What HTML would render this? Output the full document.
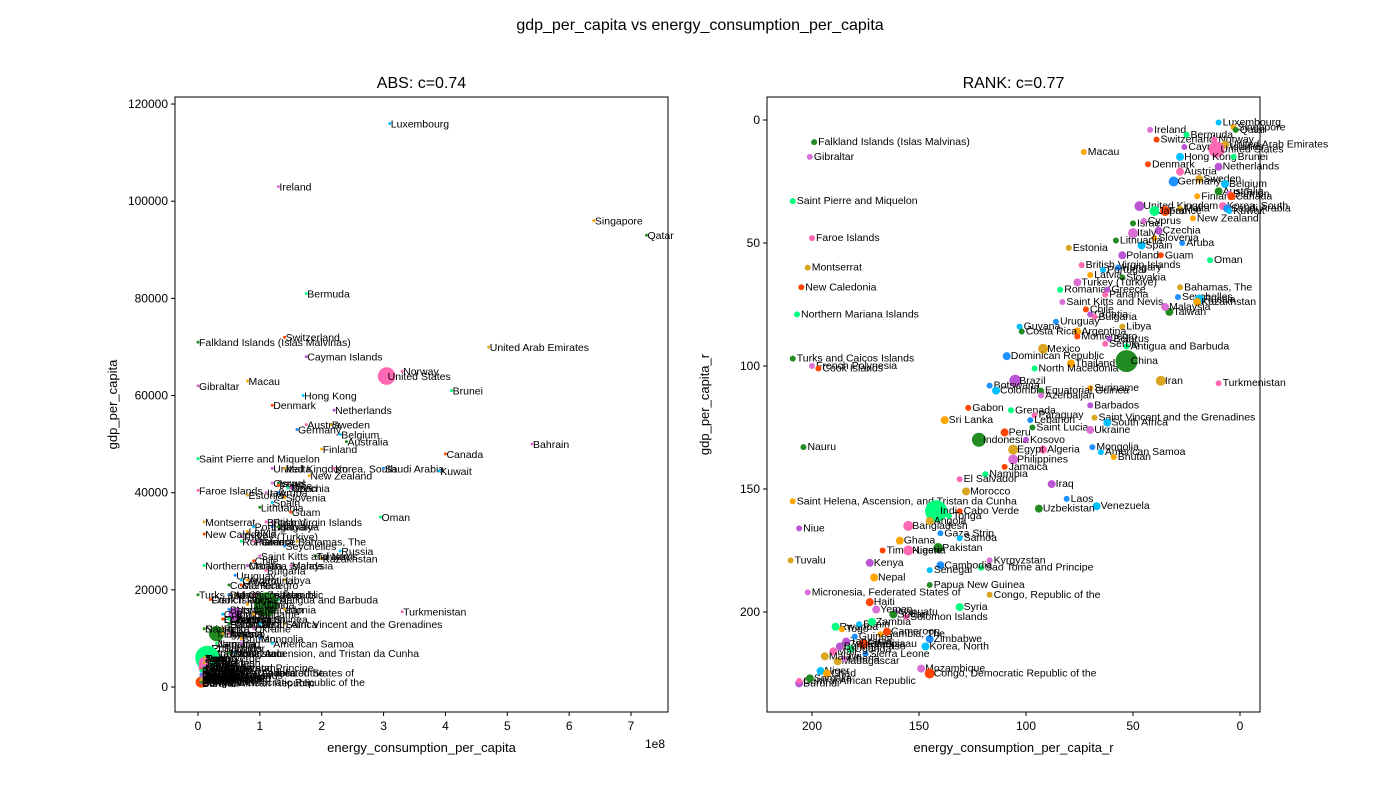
<!DOCTYPE html>
<html><head><meta charset="utf-8">
<style>
html,body{margin:0;padding:0;background:#fff;}
svg{font-family:"Liberation Sans","DejaVu Sans",sans-serif;display:block;}
</style></head>
<body>
<svg id="chart" width="1400" height="800"></svg>
<script>
const names=["Luxembourg","Singapore","Qatar","Ireland","Switzerland","Bermuda","Cayman Islands","Norway","United Arab Emirates","United States","Hong Kong","Macau","Falkland Islands (Islas Malvinas)","Gibraltar","Denmark","Brunei","Netherlands","Austria","Sweden","Germany","Belgium","Finland","Australia","Bahrain","Canada","Saint Pierre and Miquelon","United Kingdom","Korea, South","Malta","Saudi Arabia","Kuwait","New Zealand","Israel","Cyprus","France","Japan","Czechia","Faroe Islands","Estonia","Aruba","Spain","Slovenia","Lithuania","Italy","Guam","Oman","Poland","British Virgin Islands","Montserrat","Hungary","Portugal","Latvia","Slovakia","Turkey (Turkiye)","New Caledonia","Romania","Greece","Panama","Bahamas, The","Seychelles","Russia","Kazakhstan","Taiwan","Saint Kitts and Nevis","Chile","Northern Mariana Islands","Croatia","Bulgaria","Libya","Uruguay","Guyana","Argentina","Costa Rica","Malaysia","Montenegro","Antigua and Barbuda","Belarus","Serbia","Mexico","Dominican Republic","China","Thailand","Turks and Caicos Islands","French Polynesia","Cook Islands","North Macedonia","Brazil","Turkmenistan","Iran","Botswana","Colombia","Suriname","Equatorial Guinea","Azerbaijan","Gabon","Grenada","Barbados","Paraguay","Saint Vincent and the Grenadines","Lebanon","South Africa","Sri Lanka","Saint Lucia","Ukraine","Peru","Indonesia","Kosovo","Algeria","Egypt","Mongolia","American Samoa","Bhutan","Nauru","Philippines","Jamaica","Namibia","Iraq","El Salvador","Morocco","Laos","Venezuela","Saint Helena, Ascension, and Tristan da Cunha","Uzbekistan","India","Cabo Verde","Tonga","Niue","Bangladesh","Angola","Gaza Strip","Samoa","Ghana","Pakistan","Kyrgyzstan","Timor-Leste","Sao Tome and Principe","Kenya","Nigeria","Tuvalu","Cambodia","Senegal","Nepal","Papua New Guinea","Micronesia, Federated States of","Haiti","Syria","Vanuatu","Solomon Islands","Congo, Republic of the","Zimbabwe","Korea, North","Gambia, The","Guinea-Bissau","Mozambique","Congo, Democratic Republic of the","Rwanda","Burundi","Central African Republic","Madagascar","Sierra Leone","Niger","Chad","Somalia","Liberia","Ethiopia","Uganda","Tanzania","Mali","Malawi","Guinea","Benin","Togo","Sudan","Yemen","Cameroon","Zambia","Burkina Faso"];
const energy=[3.1,6.4,7.25,1.3,1.4,1.75,1.75,3.3,4.7,3.05,1.7,0.8,0,0,1.2,4.1,2.2,1.75,2.15,1.6,2.3,2.0,2.4,5.4,4.0,0,1.2,2.2,1.4,3.0,3.9,1.8,1.3,1.2,1.3,1.45,1.5,0,0.8,1.3,1.2,1.4,1.0,1.1,1.5,2.95,1.2,1.1,0.1,1.2,0.9,0.8,1.3,0.7,0.1,0.7,1.0,0.9,1.6,1.4,2.3,2.0,1.9,1.0,0.9,0.1,0.8,1.1,1.4,0.6,0.7,0.8,0.5,1.5,0.7,1.3,1.1,0.9,0.6,0.5,1.1,0.8,0,0.2,0.2,0.6,0.6,3.3,1.4,0.5,0.4,0.9,0.4,0.6,0.4,0.5,0.6,0.5,1.4,0.5,1.0,0.1,0.5,0.9,0.4,0.3,0.5,0.5,0.4,1.0,1.2,0.7,0.1,0.2,0.3,0.3,0.7,0.2,0.2,0.3,0.6,0,0.5,0.15,0.1,0.1,0.1,0.1,0.1,0.1,0.1,0.1,0.1,0.4,0.1,0.1,0.1,0.1,0.1,0.1,0.1,0.1,0.1,0.1,0.1,0.2,0.1,0.1,0.3,0.1,0.2,0.05,0.05,0.05,0.05,0.05,0.05,0.05,0.05,0.05,0.05,0.05,0.05,0.05,0.05,0.05,0.05,0.05,0.05,0.05,0.05,0.05,0.1,0.1,0.05,0.05,0.05];
const gdp=[116,96,93,103,72,81,68,65,70,64,60,63,71,62,58,61,57,54,54,53,52,49,50.5,50,48,47,45,45,45,45,44.5,43.5,42,42,41.5,41,41,40.5,39.5,40,38,39,37,40,36,35,34,34,34,33,33,32,33,31,31.5,30,30,30,30,29,28,26.5,27,27,26,25,25,24,22,23,22,22,21,25,21,18,19,19,19,19,17,17,19,18,18,16,15,15.5,16,16,15,15,14,14,14,14,14,13,13,13,13,12,13,12,12,11,11,11,11,10,9,10,12,8,9,9,9,8,7,7,7,7,7,6,6,6,6,5,6,5,5,5,4,4,4,4,4,4,5,4,3,3,3,3,3,3,3,2.5,3,2.2,2,2.2,2,1.3,1,2,0.8,0.9,1.5,1.7,1.2,1.4,1,1.5,2.5,2.3,2.6,2.2,1.5,2.6,3.3,2.1,3.6,2.6,3.6,3.4,2.2];
const energyRank=[10,3,2,42,39,25,26,12,7,11,28,73,199,201,43,3,10,28,19,31,7,20,10,5,4,209,47,8,28,6,5,22,50,45,35,40,38,200,80,27,46,40,58,50,37,14,55,74,202,57,64,70,55,76,205,84,62,63,28,29,19,20,33,83,72,207,70,68,55,86,103,76,102,35,76,53,61,63,92,109,53,79,209,200,197,96,105,10,37,117,114,70,93,93,127,107,70,96,68,98,62,138,97,70,110,122,100,92,106,69,65,59,204,106,110,119,88,131,128,81,67,209,94,142,131,136,206,155,145,140,131,159,141,117,167,121,173,155,210,140,145,171,145,202,173,131,161,156,117,145,147,168,185,149,145,189,206,206,188,175,196,193,201,185,176,182,184,190,194,180,178,186,162,170,165,172,187];
const gdpRank=[1,3,4,4,8,6,11,8,10,12,15,13,9,15,18,15,19,21,24,25,26,31,29,30,31,33,35,35,36,36,37,40,42,41,37,37,45,48,52,50,51,48,49,46,55,57,55,59,60,60,61,63,64,66,68,69,69,71,68,72,73,74,78,74,77,79,79,80,84,82,84,86,86,76,88,92,89,91,93,96,98,99,97,100,101,101,106,107,106,108,110,109,110,112,117,118,116,120,121,122,123,122,125,126,127,130,130,134,134,133,135,137,133,138,141,144,148,146,151,154,157,155,158,159,159,161,166,165,163,168,170,171,174,179,175,182,180,175,179,181,183,186,189,192,196,198,200,202,193,211,214,209,213,223,225,206,229,228,220,217,224,225,227,219,213,215,212,216,218,210,205,207,201,199,208,204,214];
const popSize=[2,2,2,2,2,2,2,2,3,8,3,2,2,2,2,2,3,3,3,4,3,2,3,2,3,2,4,3,2,3,2,2,2,2,4,4,3,2,2,2,3,2,2,4,2,2,3,2,2,2,2,2,2,3,2,2,2,2,2,2,4,3,3,2,2,2,2,2,2,2,2,3,2,3,2,2,2,2,4,3,11,3,2,2,2,2,6,2,4,2,3,2,2,2,2,2,2,2,2,2,3,3,2,3,3,7,2,3,4,2,2,2,2,4,2,2,3,2,3,2,3,2,3,11,2,2,2,5,3,2,2,3,5,2,2,2,3,5,2,3,2,3,2,2,3,3,2,2,2,3,3,2,2,3,5,3,3,2,3,2,3,3,3,2,4,3,3,3,3,2,2,2,3,3,3,3,3];
const xTicksL=[0,1,2,3,4,5,6,7];
const yTicksL=[0,20000,40000,60000,80000,100000,120000];
const xTicksR=[200,150,100,50,0];
const yTicksR=[0,50,100,150,200];
const palette=["#00bfff","#ffa500","#228b22","#da70d6","#ff4500","#00ff7f","#ba55d3","#ff69b4","#daa520","#1e90ff"];
const colorOverride={"China":"#228b22","India":"#00ff7f","Indonesia":"#228b22","United States":"#ff69b4"};

const NS="http://www.w3.org/2000/svg";
const svg=document.getElementById('chart');
function mk(tag,attrs,parent){const e=document.createElementNS(NS,tag);for(const k in attrs)e.setAttribute(k,attrs[k]);(parent||svg).appendChild(e);return e;}
const L={x0:175,x1:668,y0:97,y1:712};
const R={x0:767,x1:1260,y0:97,y1:712};
const lx=v=>198+v*61.86;
const ly=v=>687-v*4.858;
const lyTick=v=>687-v*4.858/1000;
const rx=v=>1240-v*2.14;
const ry=v=>120+v*2.46;

let t=mk('text',{x:700,y:30,'text-anchor':'middle','font-size':16});t.textContent='gdp_per_capita vs energy_consumption_per_capita';



function panel(P,title,xlab,ylab,xt,yt,fx,fy,id){
  const g=mk('g',{});
  
  
  let tt=mk('text',{x:(P.x0+P.x1)/2,y:88,'text-anchor':'middle','font-size':16},g);tt.textContent=title;
  
  
  xt.forEach(v=>{const x=fx(v);mk('line',{x1:x,x2:x,y1:P.y1,y2:P.y1+4,stroke:'#000'},g);
    const s=mk('text',{x:x,y:P.y1+18,'text-anchor':'middle','font-size':12},g);s.textContent=v;
    
    });
  yt.forEach(v=>{const y=fy(v);mk('line',{x1:P.x0-4,x2:P.x0,y1:y,y2:y,stroke:'#000'},g);
    const s=mk('text',{x:P.x0-7,y:y+4,'text-anchor':'end','font-size':12},g);s.textContent=v;
    
    });
  let xl=mk('text',{x:(P.x0+P.x1)/2,y:752,'text-anchor':'middle','font-size':13},g);xl.textContent=xlab;
  
  
  let yl=mk('text',{x:0,y:0,'text-anchor':'middle','font-size':13,transform:`translate(${P.x0-58},${(P.y0+P.y1)/2}) rotate(-90)`},g);yl.textContent=ylab;
  
  
  return g;
}
const gL=panel(L,'ABS: c=0.74','energy_consumption_per_capita','gdp_per_capita',xTicksL,yTicksL,lx,lyTick,'abs');
const gR=panel(R,'RANK: c=0.77','energy_consumption_per_capita_r','gdp_per_capita_r',xTicksR,yTicksR,rx,ry,'rank');
let ex=mk('text',{x:645,y:748,'font-size':12},gL);ex.textContent='1e8';



for(let i=0;i<names.length;i++){
  const c=colorOverride[names[i]]||palette[i%palette.length];
  const s=popSize[i];
  const rl=s>=5?s*1.1:1.5, rr=s>=5?s:s+1;
  const cx=lx(energy[i]),cy=ly(gdp[i]);
  const p=mk('circle',{cx:cx,cy:cy,r:rl,fill:c},gL);
  
  
  const a=mk('text',{x:cx+1,y:cy+4,'font-size':10.5},gL);a.textContent=names[i];
  
  
  const qx=rx(energyRank[i]),qy=ry(gdpRank[i]);
  const q=mk('circle',{cx:qx,cy:qy,r:rr,fill:c},gR);
  
  
  const b=mk('text',{x:qx+4,y:qy+3,'font-size':10.5},gR);b.textContent=names[i];
  
  
}
[L,R].forEach((P,k)=>{const f=mk('rect',{x:P.x0,y:P.y0,width:P.x1-P.x0,height:P.y1-P.y0,fill:'none',stroke:'#000','stroke-width':1});
  
  });
</script>
</body></html>
